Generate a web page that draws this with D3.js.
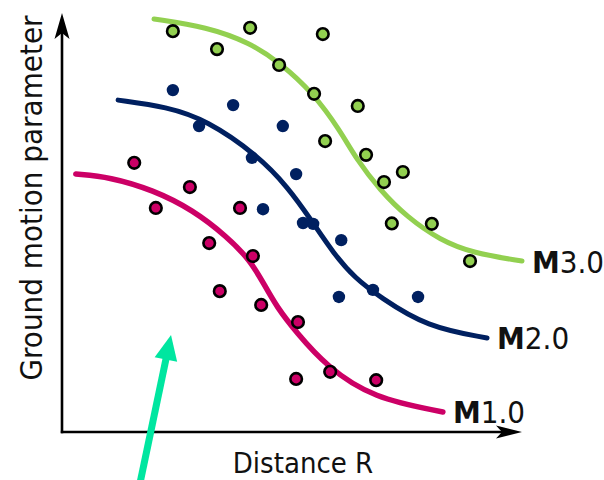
<!DOCTYPE html>
<html>
<head>
<meta charset="utf-8">
<script src="https://cdn.jsdelivr.net/npm/d3@7"></script>
<style>
  html, body { margin: 0; padding: 0; background: #fff; }
  svg { display: block; }
  text { font-family: "DejaVu Sans Condensed", "DejaVu Sans", sans-serif; font-stretch: condensed; fill: #111; }
</style>
</head>
<body>
<script>
// ---------- data (abstract units, x: 0..10, y: 0..10) ----------
const xAxisLabel = "Distance R";
const yAxisLabel = "Ground motion parameter";
const seriesNames = ["M1.0", "M2.0", "M3.0"];

// fitted curves
const curveM1 = [[0.30,6.17],[1.04,6.10],[1.98,5.79],[2.85,5.31],[3.59,4.67],[4.09,4.11],[4.39,3.54],[4.67,2.99],[5.09,2.39],[5.76,1.56],[6.76,0.81],[8.28,0.48]];
const curveM2 = [[1.22,7.94],[2.28,7.78],[3.15,7.46],[4.24,6.63],[4.91,5.86],[5.43,5.05],[5.91,4.26],[6.37,3.68],[6.91,3.23],[7.93,2.51],[9.24,2.25]];
const curveM3 = [[2.00,9.88],[3.15,9.69],[4.09,9.31],[4.74,8.83],[5.46,8.11],[6.04,7.22],[6.41,6.51],[6.91,5.79],[7.50,5.14],[8.22,4.59],[8.93,4.28],[10.00,4.09]];

// observations
const pointsM1 = [[1.57,6.44],[2.78,5.86],[2.04,5.36],[3.87,5.36],[3.20,4.52],[4.15,4.21],[3.43,3.37],[4.33,3.04],[5.13,2.63],[5.09,1.27],[5.83,1.44],[6.83,1.24]];
const pointsM2 = [[2.41,8.18],[3.72,7.82],[2.98,7.32],[4.80,7.32],[4.13,6.56],[5.09,6.17],[4.37,5.33],[5.24,5.00],[5.46,4.98],[6.07,4.59],[6.76,3.40],[6.02,3.23],[7.74,3.23]];
const pointsM3 = [[2.41,9.59],[3.37,9.16],[4.09,9.67],[5.67,9.52],[4.72,8.78],[5.48,8.09],[6.43,7.80],[5.72,6.96],[6.61,6.63],[7.41,6.22],[7.00,5.98],[7.17,4.99],[8.04,4.98],[8.87,4.09]];

// annotation arrow (tail, tip)
const annotationArrow = [[1.70,-1.20],[2.37,2.32]];

// ---------- chart ----------
const W = 604, H = 480;
const svg = d3.select("body").append("svg").attr("width", W).attr("height", H);

const x = d3.scaleLinear().domain([0, 10]).range([62, 522]);
const y = d3.scaleLinear().domain([0, 10]).range([432, 14]);

const colors = { "M1.0": "#cc0066", "M2.0": "#002060", "M3.0": "#92d050" };
const series = [
  { name: "M1.0", curve: curveM1, pts: pointsM1, outline: true,  lw: 5.5 },
  { name: "M2.0", curve: curveM2, pts: pointsM2, outline: false, lw: 5 },
  { name: "M3.0", curve: curveM3, pts: pointsM3, outline: true,  lw: 5 }
];

// axes (with arrow heads)
const ax = svg.append("g");
const x0 = x(0), y0 = y(0), xEnd = x(10), yEnd = y(10);
ax.append("line").attr("x1", x0).attr("y1", y0 + 1.2).attr("x2", x0).attr("y2", yEnd + 18)
  .attr("stroke", "#000").attr("stroke-width", 2.6);
ax.append("line").attr("x1", x0 - 1.2).attr("y1", y0).attr("x2", xEnd - 18).attr("y2", y0)
  .attr("stroke", "#000").attr("stroke-width", 2.6);
ax.append("path")
  .attr("d", `M${x0},${yEnd - 1} L${x0 - 7.5},${yEnd + 25} L${x0},${yEnd + 19} L${x0 + 7.5},${yEnd + 25} Z`)
  .attr("fill", "#000");
ax.append("path")
  .attr("d", `M${xEnd},${y0} L${xEnd - 26},${y0 - 6.5} L${xEnd - 20},${y0} L${xEnd - 26},${y0 + 6.5} Z`)
  .attr("fill", "#000");

// curves
const line = d3.line().x(d => x(d[0])).y(d => y(d[1])).curve(d3.curveBasis);
series.forEach(s => {
  svg.append("path").datum(s.curve).attr("d", line)
    .attr("fill", "none").attr("stroke", colors[s.name])
    .attr("stroke-width", s.lw).attr("stroke-linecap", "round");
});

// points
series.forEach(s => {
  svg.append("g").selectAll("circle").data(s.pts).join("circle")
    .attr("cx", d => x(d[0])).attr("cy", d => y(d[1]))
    .attr("r", s.outline ? 5.8 : 6.2)
    .attr("fill", colors[s.name])
    .attr("stroke", s.outline ? "#000" : "none")
    .attr("stroke-width", 2.6);
});

// series labels at curve ends
series.forEach(s => {
  const last = s.curve[s.curve.length - 1];
  const t = svg.append("text")
    .attr("x", x(last[0]) + 10).attr("y", y(last[1]) + 11.5)
    .attr("font-size", 31);
  t.append("tspan").attr("font-weight", "bold").text(s.name.slice(0, 1));
  t.append("tspan").text(s.name.slice(1));
});

// axis labels
svg.append("text").attr("x", 303).attr("y", 473)
  .attr("text-anchor", "middle").attr("font-size", 29).text(xAxisLabel);
svg.append("text")
  .attr("transform", `translate(42,${(y0 + yEnd) / 2 - 25}) rotate(-90)`)
  .attr("text-anchor", "middle").attr("font-size", 31).text(yAxisLabel);

// annotation arrow
const [tail, tip] = annotationArrow;
const tx = x(tail[0]), ty = y(tail[1]), px = x(tip[0]), py = y(tip[1]);
const ang = Math.atan2(py - ty, px - tx);
const headLen = 25, headHalf = 11.5;
const bx = px - headLen * Math.cos(ang), by = py - headLen * Math.sin(ang);
const nx = -Math.sin(ang), ny = Math.cos(ang);
svg.append("line").attr("x1", tx).attr("y1", ty).attr("x2", bx + 2 * Math.cos(ang)).attr("y2", by + 2 * Math.sin(ang))
  .attr("stroke", "#00e6a0").attr("stroke-width", 7);
svg.append("path")
  .attr("d", `M${px},${py} L${bx + headHalf * nx},${by + headHalf * ny} L${bx - headHalf * nx},${by - headHalf * ny} Z`)
  .attr("fill", "#00e6a0");
</script>
</body>
</html>
